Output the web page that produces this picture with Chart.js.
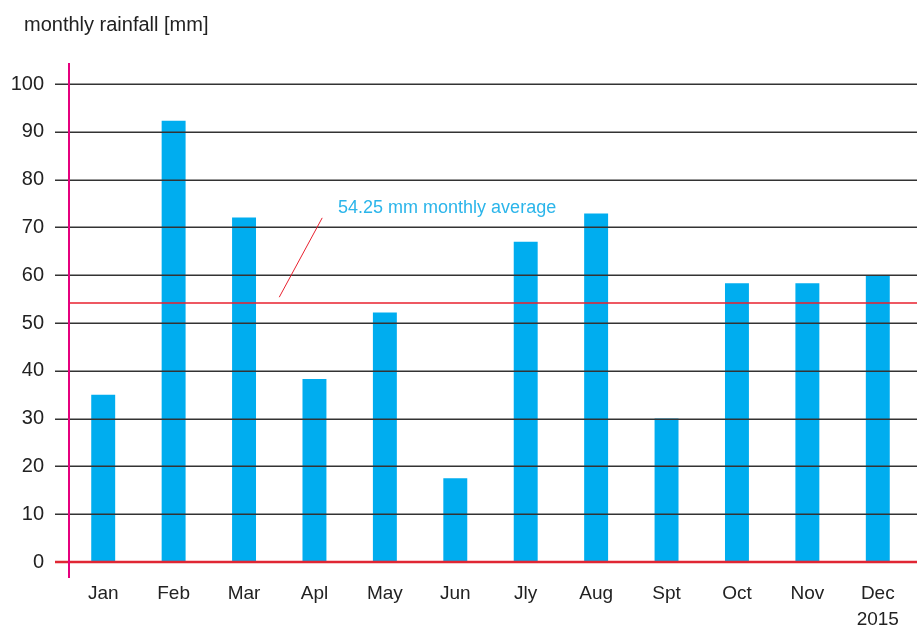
<!DOCTYPE html>
<html>
<head>
<meta charset="utf-8">
<script src="https://cdn.jsdelivr.net/npm/chart.js@4"></script>
<style>
  html, body { margin: 0; padding: 0; background: #fff; }
  #wrap { width: 917px; height: 628px; }
</style>
</head>
<body>
<div id="wrap"><canvas id="c" width="917" height="628"></canvas></div>
<script>
// ---- data ----
const categories = ['Jan', 'Feb', 'Mar', 'Apl', 'May', 'Jun', 'Jly', 'Aug', 'Spt', 'Oct', 'Nov', ['Dec', '2015']];
const rainfall = [35, 92.3, 72.1, 38.3, 52.2, 17.5, 67, 72.9, 30, 58.3, 58.3, 60];
const yTickValues = [0, 10, 20, 30, 40, 50, 60, 70, 80, 90, 100];
const averageValue = 54.25;
const averageLabel = '54.25 mm monthly average';
const yAxisTitle = 'monthly rainfall [mm]';

// ---- styles ----
const FONT = '"Liberation Sans", Arial, Helvetica, sans-serif';
const BAR_COLOR = '#00adef';
const GRID_COLOR = '#333';
const ZERO_COLOR = '#e02633';
const AXIS_COLOR = '#e6007e';
const AVG_COLOR = '#e8202e';
const NOTE_COLOR = '#2bb5ea';
const TEXT_COLOR = '#222';

const overlay = {
  id: 'overlay',
  afterDatasetsDraw(chart) {
    const ctx = chart.ctx;
    const y = chart.scales.y, x = chart.scales.x;
    const area = chart.chartArea;
    const W = chart.width;
    ctx.save();
    // horizontal grid lines (drawn over bars), with tick marks left of axis
    y.ticks.forEach(t => {
      const py = Math.round(y.getPixelForValue(t.value));
      if (t.value === 0) {
        ctx.strokeStyle = ZERO_COLOR; ctx.lineWidth = 2.5;
        ctx.beginPath(); ctx.moveTo(area.left - 13, py); ctx.lineTo(W, py); ctx.stroke();
      } else {
        ctx.strokeStyle = GRID_COLOR; ctx.lineWidth = 1.4;
        ctx.beginPath(); ctx.moveTo(area.left - 13, py + 0.3); ctx.lineTo(W, py + 0.3); ctx.stroke();
      }
    });
    // average line
    const ay = Math.round(y.getPixelForValue(averageValue));
    ctx.strokeStyle = AVG_COLOR; ctx.lineWidth = 1.6;
    ctx.beginPath(); ctx.moveTo(area.left, ay); ctx.lineTo(W, ay); ctx.stroke();
    // leader line
    ctx.lineWidth = 1;
    ctx.beginPath();
    ctx.moveTo(x.getPixelForValue(2.5), y.getPixelForValue(55.4));
    ctx.lineTo(x.getPixelForValue(3.11), y.getPixelForValue(72.0));
    ctx.stroke();
    // annotation text
    ctx.fillStyle = NOTE_COLOR;
    ctx.font = '18px ' + FONT;
    ctx.textAlign = 'left'; ctx.textBaseline = 'alphabetic';
    ctx.fillText(averageLabel, x.getPixelForValue(3.335), y.getPixelForValue(72.95));
    // pink y axis
    ctx.strokeStyle = AXIS_COLOR; ctx.lineWidth = 2;
    ctx.beginPath(); ctx.moveTo(area.left + 1, area.top); ctx.lineTo(area.left + 1, area.bottom); ctx.stroke();
    // axis title
    ctx.fillStyle = TEXT_COLOR;
    ctx.font = '20px ' + FONT;
    ctx.fillText(yAxisTitle, 24, 31);
    ctx.restore();
  }
};

new Chart(document.getElementById('c'), {
  type: 'bar',
  data: {
    labels: categories,
    datasets: [{
      data: rainfall,
      backgroundColor: BAR_COLOR,
      borderWidth: 0,
      categoryPercentage: 1,
      barPercentage: 0.34
    }]
  },
  options: {
    responsive: false,
    devicePixelRatio: 1,
    animation: false,
    layout: { padding: { top: 63, right: 4, bottom: 0, left: 0 } },
    plugins: { legend: { display: false }, tooltip: { enabled: false }, title: { display: false } },
    scales: {
      x: {
        offset: true,
        grid: { display: false, drawTicks: false },
        border: { display: false },
        ticks: {
          color: TEXT_COLOR,
          font: { family: FONT, size: 19, lineHeight: 1.37 },
          padding: 3,
          maxRotation: 0,
          autoSkip: false
        },
        afterFit(s) { s.height = 50; }
      },
      y: {
        min: -3.35,
        max: 104.4,
        grid: { display: false, drawTicks: false },
        border: { display: false },
        ticks: {
          color: TEXT_COLOR,
          font: { family: FONT, size: 20 },
          padding: 24
        },
        afterBuildTicks(s) { s.ticks = yTickValues.map(v => ({ value: v })); },
        afterFit(s) { s.width = 68; }
      }
    }
  },
  plugins: [overlay]
});
</script>
</body>
</html>
